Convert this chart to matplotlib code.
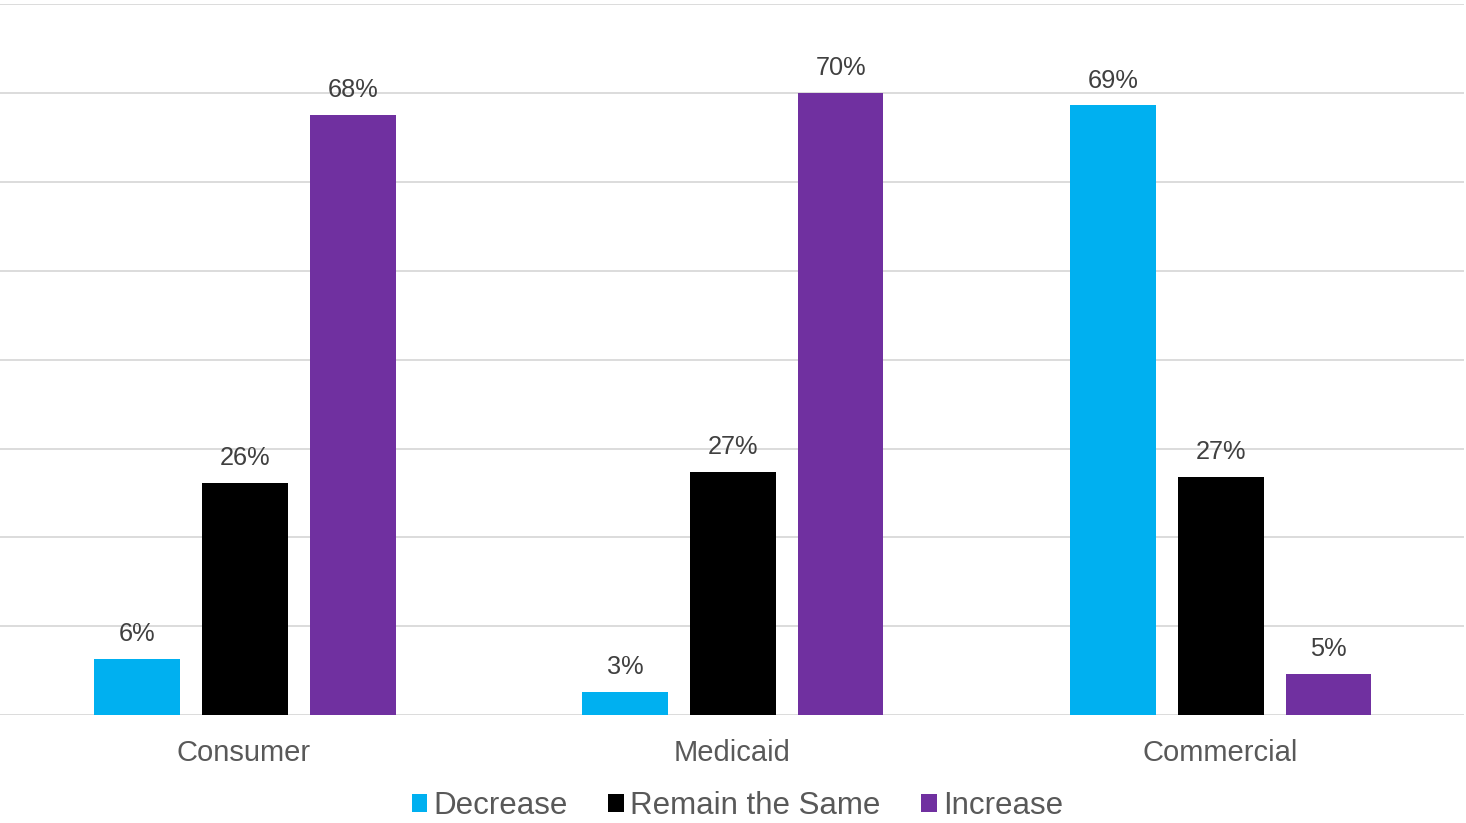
import numpy as np
import matplotlib.pyplot as plt
from matplotlib.ticker import MultipleLocator

plt.rcParams["font.family"] = ["Liberation Sans", "DejaVu Sans"]

categories = ["Consumer", "Medicaid", "Commercial"]
series = ["Decrease", "Remain the Same", "Increase"]
decrease = [6.3, 2.6, 68.6]
remain = [26.1, 27.4, 26.8]
increase = [67.5, 70.0, 4.6]
colors = ["#00B0F0", "#000000", "#7030A0"]

fig = plt.figure(figsize=(14.66, 8.23), dpi=100)
ax = fig.add_axes([0.0, 0.131, 0.9986, 0.864])

x = np.arange(len(categories))
width = 0.175
step = 0.221
for i, (name, vals, c) in enumerate(zip(series, [decrease, remain, increase], colors)):
    pos = x + (i - 1) * step + 0.002
    bars = ax.bar(pos, vals, width, color=c, label=name, zorder=3)
    for b, v in zip(bars, vals):
        ax.text(b.get_x() + b.get_width() / 2, v + 1.45, f"{round(v):d}%",
                ha="center", va="bottom", fontsize=18.3, color="#404040")

ax.set_xlim(-0.5, 2.5)
ax.set_ylim(0, 80)
ax.yaxis.set_major_locator(MultipleLocator(10))
ax.grid(axis="y", color="#D9D9D9", linewidth=1.3, zorder=0)
ax.set_yticklabels([])
ax.tick_params(axis="y", length=0)
ax.tick_params(axis="x", length=0, pad=17, labelsize=21, labelcolor="#595959")
ax.set_xticks(x)
ax.set_xticklabels(categories)
for s in ax.spines.values():
    s.set_visible(False)

fig.legend(loc="center", bbox_to_anchor=(0.503, 0.021), ncol=3, frameon=False,
           fontsize=22.5, handlelength=0.5, handleheight=0.5, handletextpad=0.2,
           columnspacing=1.3, labelcolor="#595959", borderpad=0.1)

fig.savefig("out.png", dpi=100)
